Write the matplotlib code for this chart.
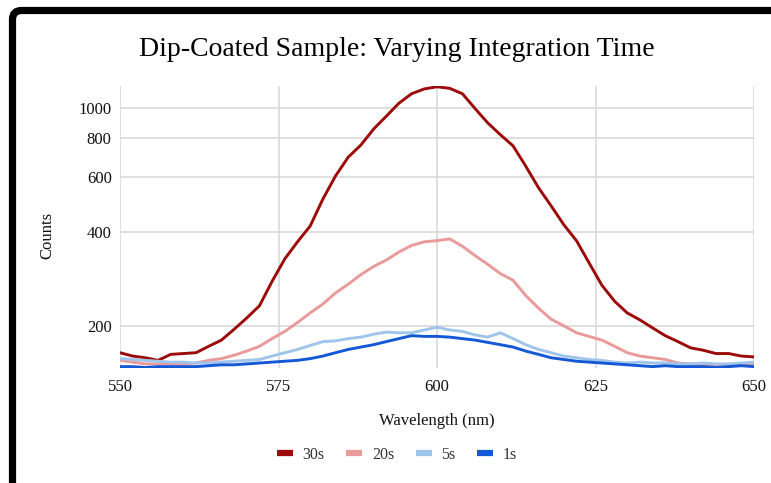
import matplotlib
matplotlib.use("Agg")
import matplotlib.pyplot as plt
from matplotlib.lines import Line2D
from matplotlib.patches import FancyBboxPatch
from matplotlib.ticker import FixedLocator, FixedFormatter, NullLocator

plt.rcParams["font.family"] = ["Liberation Serif", "DejaVu Serif"]

wavelength = list(range(550, 651, 2))

counts_30s = [164, 160, 158, 155, 162, 163, 164, 172, 180, 195, 212, 232, 278, 328,
              372, 418, 510, 605, 695, 760, 855, 940, 1035, 1110, 1150, 1168, 1155,
              1110, 995, 895, 820, 755, 650, 555, 485, 422, 375, 318, 270, 240, 220,
              209, 197, 186, 178, 170, 167, 163, 163, 160, 159]
counts_20s = [155, 153, 151, 151, 151, 151, 152, 155, 157, 161, 166, 172, 182, 192,
              205, 220, 235, 255, 272, 292, 310, 325, 345, 362, 372, 375, 380, 360,
              336, 315, 294, 280, 250, 228, 210, 200, 190, 185, 180, 172, 164, 160,
              158, 156, 152, 151, 150, 150, 150, 151, 151]
counts_5s = [157, 156, 155, 154, 153, 153, 152, 152, 153, 154, 155, 156, 160, 164,
             168, 173, 178, 179, 182, 184, 188, 191, 190, 190, 194, 198, 194, 192,
             187, 184, 190, 182, 174, 168, 164, 160, 158, 156, 155, 153, 152, 153,
             152, 152, 151, 151, 152, 151, 151, 152, 153]
counts_1s = [148, 148, 147, 148, 148, 148, 148, 149, 150, 150, 151, 152, 153, 154,
             155, 157, 160, 164, 168, 171, 174, 178, 182, 186, 185, 185, 184, 182,
             180, 177, 174, 171, 166, 162, 158, 156, 154, 153, 152, 151, 150, 149,
             148, 149, 148, 148, 148, 147, 148, 149, 148]

series = [
    ("30s", counts_30s, "#9c0a0a"),
    ("20s", counts_20s, "#ea9a9a"),
    ("5s", counts_5s, "#9fc5ea"),
    ("1s", counts_1s, "#1558d6"),
]

y_ticks = [200, 400, 600, 800, 1000]
x_ticks = [550, 575, 600, 625, 650]

fig = plt.figure(figsize=(7.71, 4.83), dpi=100)
ax = fig.add_axes([120 / 771, 1 - 368 / 483, 634 / 771, 282 / 483])

for label, values, color in series:
    ax.plot(wavelength, values, color=color, lw=2.1, label=label)

ax.set_yscale("log")
ax.set_xlim(550, 650)
ax.set_ylim(146.5, 1175)
ax.yaxis.set_major_locator(FixedLocator(y_ticks))
ax.yaxis.set_major_formatter(FixedFormatter([str(v) for v in y_ticks]))
ax.yaxis.set_minor_locator(NullLocator())
ax.set_xticks(x_ticks)
ax.grid(True, color="#d9d9d9", lw=1.2)
ax.set_axisbelow(True)
for s in ax.spines.values():
    s.set_visible(False)
ax.tick_params(length=0, labelsize=12, colors="#111111")
ax.tick_params(axis="y", pad=6)
ax.tick_params(axis="x", pad=8)

fig.text(0.515, 1 - 49 / 483, "Dip-Coated Sample: Varying Integration Time",
         ha="center", va="center", fontsize=20, color="#000000")
fig.text(47.5 / 771, 1 - 235 / 483, "Counts", rotation=90, ha="center",
         va="center", fontsize=12, color="#111111")
fig.text(437 / 771, 1 - 421 / 483, "Wavelength (nm)", ha="center", va="center",
         fontsize=12, color="#111111")

handles = [Line2D([0], [0], color=c, lw=4.5, solid_capstyle="butt") for _, _, c in series]
fig.legend(handles, [s[0] for s in series], loc="center", ncol=4,
           bbox_to_anchor=(397 / 771, 1 - 455 / 483), frameon=False,
           handlelength=1.0, handletextpad=0.6, columnspacing=1.35,
           prop={"size": 11.5}, labelcolor="#333333")

# black frame in the corner of the screenshot
frame = FancyBboxPatch((0.125, -0.5), 8.0, 4.725 + 0.5,
                       boxstyle="round,pad=0,rounding_size=0.09",
                       transform=fig.dpi_scale_trans, fill=False,
                       edgecolor="black", lw=5.2)
fig.patches.append(frame)

fig.savefig("out.png", dpi=100)
